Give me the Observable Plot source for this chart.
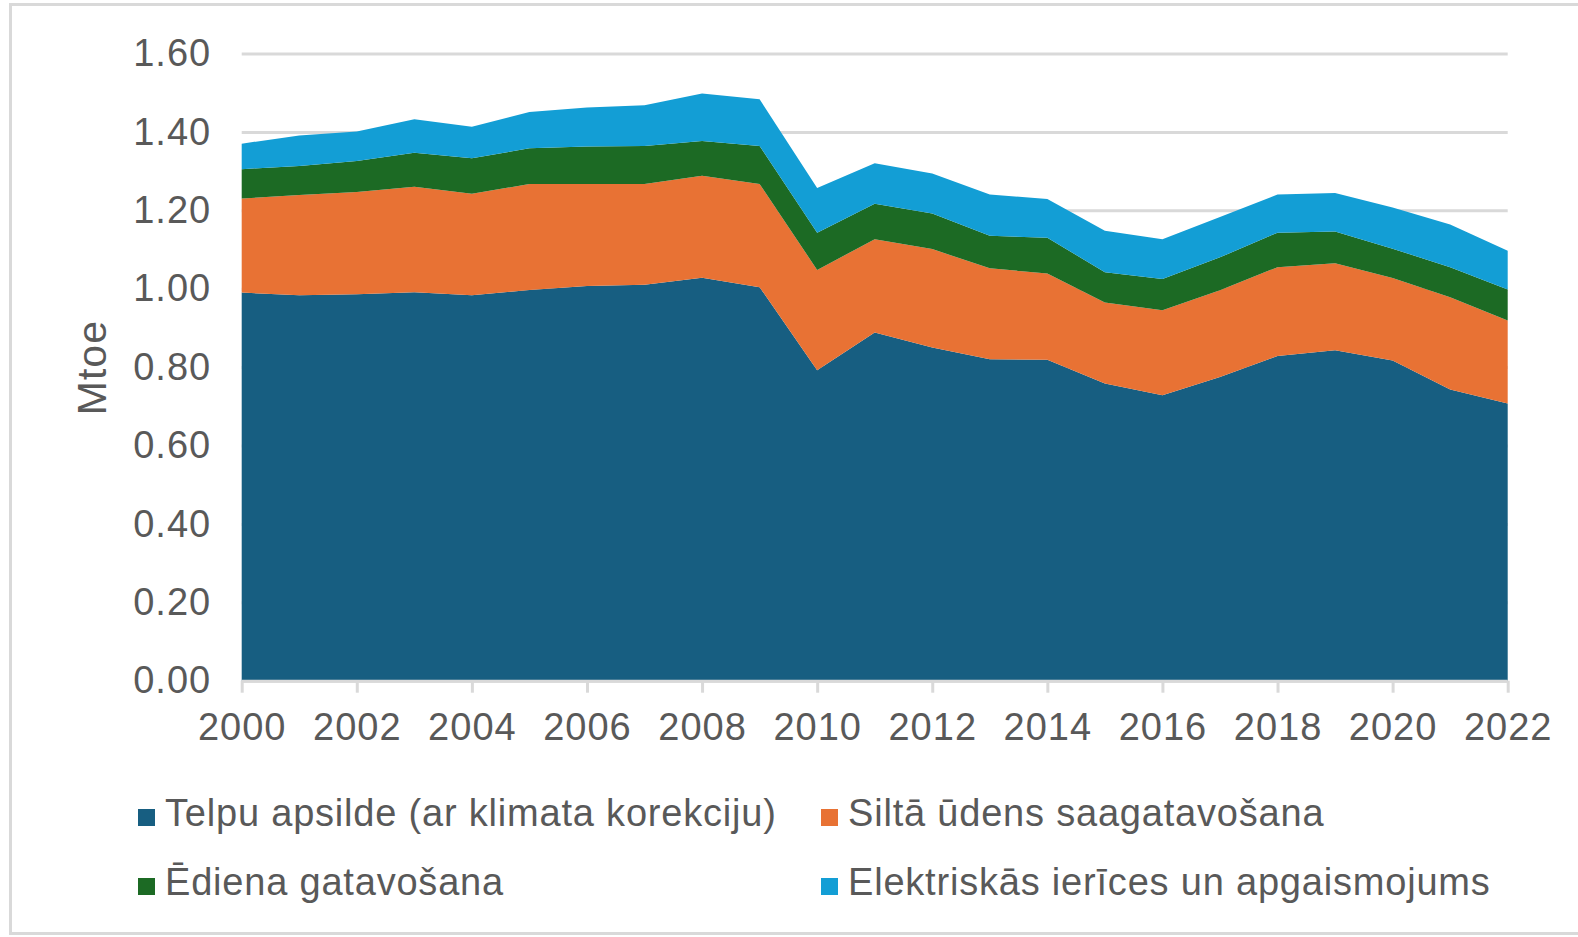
<!DOCTYPE html>
<html>
<head>
<meta charset="utf-8">
<script src="https://cdn.jsdelivr.net/npm/d3@7"></script>
<script src="https://cdn.jsdelivr.net/npm/@observablehq/plot@0.6"></script>
<style>
  html, body { margin: 0; padding: 0; background: #fff; }
  body { width: 1578px; height: 937px; overflow: hidden; position: relative; font-family: "Liberation Sans", Arial, sans-serif; }
  #frame { position: absolute; left: 9px; top: 3px; width: 1600px; height: 932px; border: 3px solid #d9d9d9; box-sizing: border-box; }
  #chart { position: absolute; left: 0; top: 0; }
  #chart svg text { letter-spacing: 1px; }
  .leg { position: absolute; font-size: 38px; line-height: 38px; color: #595959; white-space: nowrap; letter-spacing: 0.8px; }
  .sw { display: inline-block; width: 17px; height: 17px; margin-right: 10px; vertical-align: baseline; }
</style>
</head>
<body>
<div id="frame"></div>
<div id="chart"></div>
<div id="legend"></div>
<script>
const years = [2000,2001,2002,2003,2004,2005,2006,2007,2008,2009,2010,2011,2012,2013,2014,2015,2016,2017,2018,2019,2020,2021,2022];
const telpu  = [0.990,0.983,0.986,0.991,0.983,0.997,1.007,1.010,1.028,1.004,0.792,0.888,0.850,0.820,0.819,0.758,0.728,0.775,0.828,0.843,0.817,0.743,0.707];
const silta  = [0.240,0.256,0.261,0.269,0.259,0.270,0.260,0.257,0.260,0.263,0.256,0.238,0.251,0.232,0.220,0.207,0.217,0.221,0.227,0.222,0.210,0.235,0.212];
const ediena = [0.075,0.074,0.079,0.087,0.091,0.091,0.096,0.097,0.089,0.097,0.095,0.091,0.091,0.083,0.091,0.077,0.080,0.084,0.088,0.081,0.075,0.077,0.079];
const elektr = [0.065,0.078,0.075,0.085,0.080,0.093,0.099,0.104,0.121,0.119,0.114,0.103,0.102,0.105,0.099,0.106,0.101,0.103,0.097,0.098,0.105,0.109,0.099];
const seriesNames = ["Telpu apsilde (ar klimata korekciju)", "Siltā ūdens saagatavošana", "Ēdiena gatavošana", "Elektriskās ierīces un apgaismojums"];
const seriesColors = ["#175e81", "#e87234", "#1c6a24", "#139ed5"];
const yTicks = [0, 0.2, 0.4, 0.6, 0.8, 1.0, 1.2, 1.4, 1.6];
const xTicks = [2000,2002,2004,2006,2008,2010,2012,2014,2016,2018,2020,2022];

const seriesValues = [telpu, silta, ediena, elektr];
const data = [];
seriesNames.forEach((name, i) => {
  years.forEach((yr, j) => data.push({year: yr, series: name, value: seriesValues[i][j]}));
});

const W = 1578, H = 760;
const chart = Plot.plot({
  width: W,
  height: H,
  marginLeft: 241.7,
  marginRight: 70.3,
  marginTop: 53.5,
  marginBottom: H - 680.7,
  style: { fontFamily: "Liberation Sans, Arial, sans-serif", fontSize: "38px", color: "#595959", background: "transparent" },
  x: { domain: [2000, 2022] },
  y: { domain: [0, 1.6] },
  color: { domain: seriesNames, range: seriesColors },
  marks: [
    Plot.gridY(yTicks, { stroke: "#d9d9d9", strokeOpacity: 1, strokeWidth: 3 }),
    Plot.areaY(data, { x: "year", y: "value", fill: "series", z: "series", order: seriesNames, fillOpacity: 1 }),
    Plot.ruleY([0], { stroke: "#d9d9d9", strokeWidth: 3 }),
    Plot.axisX(xTicks, { tickFormat: d => String(d), tickSize: 12, tickPadding: 20, stroke: "#d9d9d9", strokeWidth: 3, strokeOpacity: 1, fill: "#595959", fontSize: 38, label: null }),
    Plot.axisY(yTicks, { tickFormat: d => d.toFixed(2), tickSize: 0, tickPadding: 31, fill: "#595959", fontSize: 38, label: null }),
    Plot.axisY({ ticks: [], tickSize: 0, fontSize: 41, fill: "#595959", label: "Mtoe", labelAnchor: "center", labelOffset: 165, labelArrow: "none" })
  ]
});
document.getElementById("chart").appendChild(chart);

const legendPos = [
  { left: 138, top: 794 },
  { left: 821, top: 794 },
  { left: 138, top: 863 },
  { left: 821, top: 863 }
];
const legend = document.getElementById("legend");
seriesNames.forEach((name, i) => {
  const d = document.createElement("div");
  d.className = "leg";
  d.style.left = legendPos[i].left + "px";
  d.style.top = legendPos[i].top + "px";
  const sw = document.createElement("span");
  sw.className = "sw";
  sw.style.background = seriesColors[i];
  d.appendChild(sw);
  d.appendChild(document.createTextNode(name));
  legend.appendChild(d);
});
</script>
</body>
</html>
